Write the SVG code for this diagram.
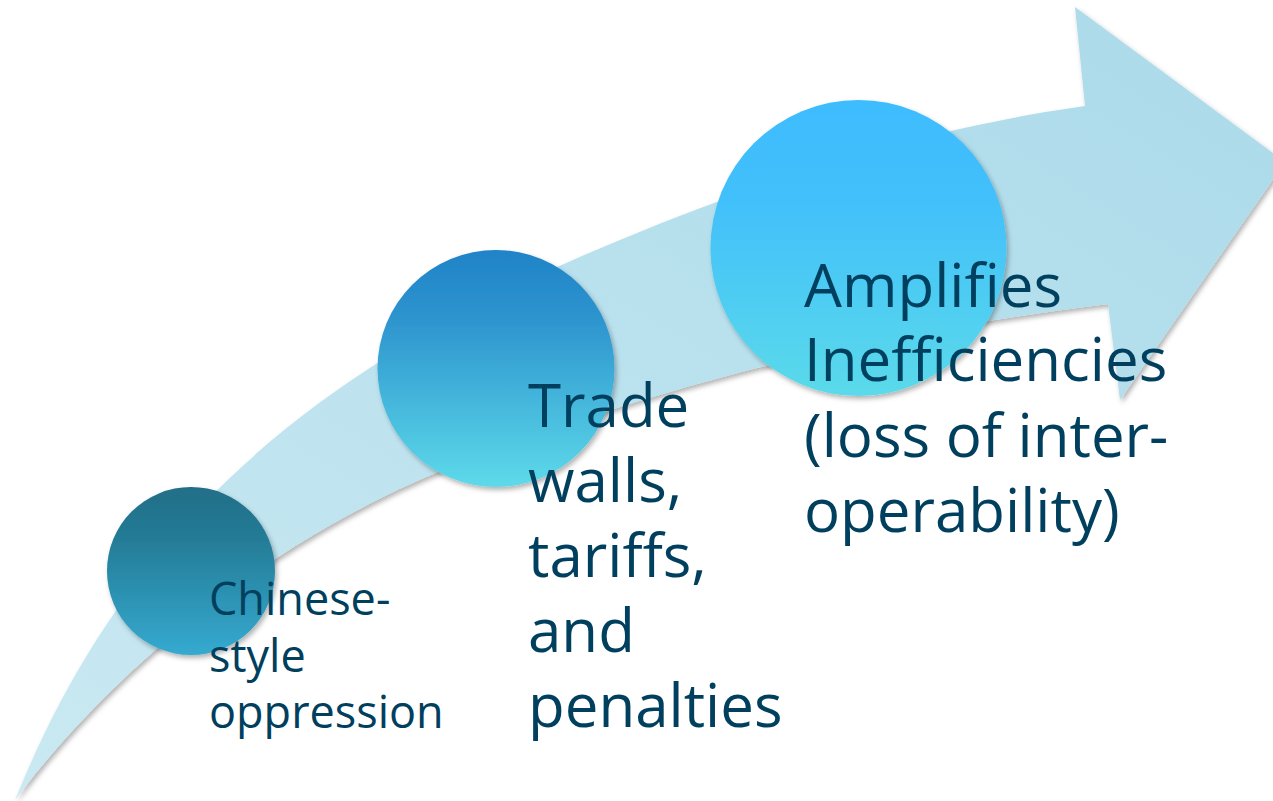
<svg xmlns="http://www.w3.org/2000/svg" width="1273" height="801" viewBox="0 0 1273 801">
  <defs>
    <linearGradient id="arrowGrad" x1="0" y1="1" x2="1" y2="0">
      <stop offset="0" stop-color="#CAE9F2"/>
      <stop offset="1" stop-color="#ABDAEA"/>
    </linearGradient>
    <linearGradient id="g1" x1="0" y1="0" x2="0" y2="1">
      <stop offset="0" stop-color="#216E88"/>
      <stop offset="0.3" stop-color="#247B95"/>
      <stop offset="1" stop-color="#35AAD0"/>
    </linearGradient>
    <linearGradient id="g2" x1="0" y1="0" x2="0" y2="1">
      <stop offset="0" stop-color="#2083C8"/>
      <stop offset="0.3" stop-color="#2E95CE"/>
      <stop offset="1" stop-color="#5DDAEA"/>
    </linearGradient>
    <linearGradient id="g3" x1="0" y1="0" x2="0" y2="1">
      <stop offset="0" stop-color="#3EBCFE"/>
      <stop offset="0.35" stop-color="#42C0FA"/>
      <stop offset="1" stop-color="#5BDAEA"/>
    </linearGradient>
    <filter id="shadow" x="-10%" y="-10%" width="125%" height="125%">
      <feDropShadow dx="2" dy="3" stdDeviation="2.5" flood-color="#000000" flood-opacity="0.3"/>
    </filter>
  </defs>
  <style>
    .label { font-family: "Open Sans", "Noto Sans", "Liberation Sans", sans-serif; fill: #003F5E; }
    .small { font-size: 45px; }
    .big { font-size: 60px; }
  </style>
  <rect width="1273" height="801" fill="#FFFFFF"/>
  <g id="connectors">
    <path id="arrow" filter="url(#shadow)" fill="url(#arrowGrad)" d="M15,800 C 120,540 300,370 620,240 C 800,165 950,125 1085,106 L 1075,7 L 1285,162 L 1120,400 L 1108,304 C 900,330 700,370 450,467 C 280,535 120,660 15,800 Z"/>
  </g>
  <g id="node1">
    <circle cx="191" cy="571" r="84" fill="url(#g1)" filter="url(#shadow)"/>
    <text class="label small" x="209"><tspan x="209" y="615">Chinese-</tspan><tspan x="209" y="672">style</tspan><tspan x="209" y="728">oppression</tspan></text>
  </g>
  <g id="node2">
    <circle cx="496" cy="368.5" r="118.5" fill="url(#g2)" filter="url(#shadow)"/>
    <text class="label big" x="528"><tspan x="528" y="427">Trade</tspan><tspan x="528" y="502">walls,</tspan><tspan x="528" y="577">tariffs,</tspan><tspan x="528" y="652">and</tspan><tspan x="528" y="727">penalties</tspan></text>
  </g>
  <g id="node3">
    <circle cx="858.5" cy="248" r="148" fill="url(#g3)" filter="url(#shadow)"/>
    <text class="label big" x="804"><tspan x="804" y="307">Amplifies</tspan><tspan x="804" y="381">Inefficiencies</tspan><tspan x="804" y="457">(loss of inter-</tspan><tspan x="804" y="532">operability)</tspan></text>
  </g>
</svg>
